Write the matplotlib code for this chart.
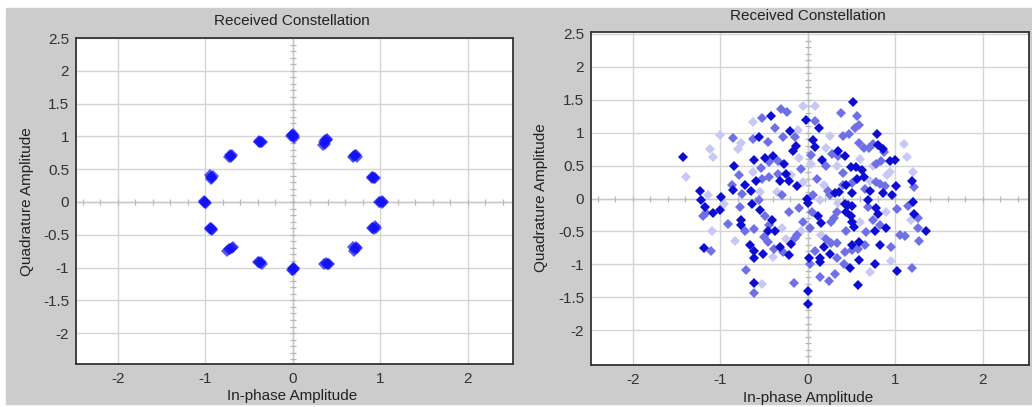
import numpy as np
import matplotlib
matplotlib.use("Agg")
import matplotlib.pyplot as plt
from matplotlib.patches import Rectangle

plt.rcParams['font.family'] = ['Liberation Sans', 'DejaVu Sans']

# left panel: 16-PSK clusters (received symbols)
psk_x = [-0.01, 0.01, 0.00, -0.02, 0.01, 0.00,
         0.37, 0.39, 0.36, 0.37, 0.35, 0.39,
         0.70, 0.72, 0.73, 0.69, 0.71,
         0.91, 0.93, 0.94, 0.92, 0.90,
         1.00, 1.02, 1.02, 0.99, 1.03,
         0.92, 0.93, 0.95, 0.91, 0.94,
         0.69, 0.71, 0.72, 0.70, 0.73,
         0.38, 0.40, 0.36, 0.39, 0.41,
         0.00, -0.01, 0.01, 0.00, 0.01,
         -0.40, -0.37, -0.35, -0.38, -0.36,
         -0.69, -0.72, -0.75, -0.68, -0.73,
         -0.93, -0.92, -0.94, -0.92, -0.94,
         -1.00, -1.01, -0.99, -1.00, -1.01,
         -0.93, -0.94, -0.92, -0.91, -0.93,
         -0.71, -0.69, -0.73, -0.70, -0.72,
         -0.38, -0.36, -0.39, -0.37, -0.35]
psk_y = [1.02, 1.01, 1.00, 1.00, 0.98, 1.03,
         0.95, 0.94, 0.92, 0.89, 0.87, 0.96,
         0.70, 0.71, 0.69, 0.69, 0.72,
         0.37, 0.37, 0.36, 0.38, 0.38,
         0.00, 0.01, -0.01, 0.00, 0.00,
         -0.39, -0.41, -0.39, -0.40, -0.37,
         -0.68, -0.72, -0.69, -0.74, -0.70,
         -0.93, -0.94, -0.95, -0.95, -0.94,
         -1.01, -1.03, -1.00, -1.04, -1.02,
         -0.92, -0.93, -0.94, -0.91, -0.92,
         -0.70, -0.72, -0.74, -0.69, -0.71,
         -0.40, -0.41, -0.39, -0.42, -0.41,
         0.00, 0.01, -0.01, -0.02, 0.00,
         0.38, 0.41, 0.37, 0.39, 0.35,
         0.70, 0.71, 0.69, 0.68, 0.71,
         0.92, 0.92, 0.93, 0.91, 0.92]

# right panel: noisy symbols, split by how strongly they are drawn
dark_x = [-0.42, -0.20, -0.56, -0.13, -0.62, -0.49, -0.40, -1.43, -0.84, -0.86, -0.72, -0.65,
          -0.59, -0.25, -0.32, -0.21, -0.12, -1.23, -1.22, -0.99, -1.18, -1.08, -1.01, -0.64,
          -0.55, -0.41, -0.76, -0.76, -0.46, -0.37, -0.66, -0.61, -0.51, -0.62, -0.32, -0.21,
          -0.19, -1.19, -0.61, -0.01, -0.17, -0.27,
          0.52, 0.13, -0.02, 0.79, 0.80, 0.86, 0.06, 0.08, 0.35, 0.42, 0.16, 0.49,
          0.55, 0.62, 0.94, 1.00, 0.56, 0.64, 0.44, 0.36, 0.31, 0.50, 0.71, 0.86,
          0.96, 1.01, 1.19, 0.00, 0.42, 0.46, 0.51, 0.44, 0.12, 0.15, 0.49, 0.50,
          0.53, 0.69, 0.78, 0.80, 0.89, 0.77, 1.20, 1.22, 1.35, 0.82, 0.58, 0.51,
          0.25, 0.19, 0.14, 0.14, 0.01, 0.58, 0.77, 0.48, 1.02, 0.57, 0.00, 0.00]
dark_y = [1.25, 1.02, 0.94, 0.80, 0.59, 0.61, 0.65, 0.63, 0.50, 0.13, 0.21, 0.12,
          0.27, 0.37, 0.27, 0.26, 0.19, 0.11, -0.02, 0.02, -0.13, -0.22, -0.17, -0.08,
          -0.18, -0.32, -0.33, -0.40, -0.50, -0.49, -0.71, -0.80, -0.85, -0.90, -0.74, -0.86,
          -0.69, -0.75, -1.29, 0.00, 0.72, 0.52,
          1.46, 1.07, 1.20, 0.98, 0.81, 0.75, 0.89, 0.78, 0.72, 0.64, 0.58, 0.48,
          0.48, 0.44, 0.57, 0.59, 0.30, 0.32, 0.21, 0.10, 0.09, 0.09, 0.12, 0.08,
          0.06, 0.19, 0.26, -0.07, -0.08, -0.10, -0.11, -0.20, -0.26, -0.37, -0.27, -0.36,
          -0.43, -0.03, -0.14, -0.23, -0.45, -0.50, -0.06, -0.23, -0.50, -0.70, -0.66, -0.70,
          -0.84, -0.73, -0.90, -0.96, -0.91, -0.93, -0.99, -1.06, -1.10, -1.31, -1.41, -1.60]

mid_x = [-0.31, -0.24, -0.37, -0.52, -0.86, -0.63, -0.34, -0.44, -0.54, -0.79, -0.87, -0.52,
         -0.44, -0.34, -1.17, -1.20, -0.75, -0.77, -0.56, -0.49, -0.44, -0.91, -0.72, -0.62,
         -0.50, -0.46, -0.39, -0.28, -0.15, -1.11, -0.71, -0.61, -0.16, -0.15, -0.28, -0.46,
         -0.08, -0.05, -0.10, -0.30, -0.22, -0.12,
         0.38, 0.56, 0.58, 0.54, 0.08, 0.40, 0.47, 0.59, 0.64, 0.70, 0.75, 0.87,
         0.28, 0.35, 0.04, 0.21, 0.40, 0.78, 0.84, 0.50, 0.40, 0.23, 0.25, 0.65,
         0.78, 0.82, 0.88, 1.21, 0.06, 0.33, 0.27, 0.30, 0.44, 0.69, 0.75, 0.83,
         0.67, 1.02, 1.15, 1.26, 1.26, 1.05, 1.11, 1.27, 0.95, 0.65, 0.57, 0.50,
         0.42, 0.33, 0.21, 0.27, 0.33, 0.02, 0.08, 0.41, 1.19, 0.31, 0.24, 0.14,
         0.02, 0.05, 0.10]
mid_y = [1.36, 1.31, 1.07, 1.22, 0.92, 0.90, 0.57, 0.55, 0.47, 0.35, 0.20, 0.30,
         0.33, 0.37, -0.22, -0.27, 0.07, -0.13, -0.03, -0.27, -0.41, -0.38, -0.49, -0.47,
         -0.59, -0.66, -0.77, -0.82, -0.60, -0.80, -1.08, -1.43, -1.29, 0.93, 0.93, 0.86,
         0.45, -0.35, -0.15, 0.05, -0.20, -0.55,
         1.30, 1.25, 1.12, 1.07, 1.18, 0.95, 0.98, 0.85, 0.76, 0.76, 0.83, 0.71,
         0.68, 0.64, 0.66, 0.49, 0.39, 0.53, 0.57, 0.24, 0.20, 0.12, 0.06, 0.14,
         0.25, 0.22, 0.19, 0.18, 0.05, -0.21, -0.35, -0.30, -0.50, -0.13, -0.33, -0.41,
         -0.51, -0.16, -0.11, -0.30, -0.45, -0.56, -0.57, -0.65, -0.73, -0.70, -0.76, -0.79,
         -0.81, -0.90, -0.62, -0.67, -0.67, -0.99, -0.80, -1.00, -1.06, -1.15, -1.25, -1.19,
         -0.45, -0.20, 0.30]

light_x = [-0.63, -0.11, -1.00, -0.76, -0.80, -1.12, -1.09, -1.39, -0.63, -0.19, -1.14, -0.96,
           -0.25, -0.40, -0.83, -1.10, -0.52, -0.05, -0.10, -0.35, -0.30, -0.08, -0.05, -0.55,
           0.08, 1.10, 1.14, 0.21, 0.04, 0.33, 0.75, 0.94, 0.91, 1.20, 0.71, 0.19,
           0.14, 0.35, 1.18, 0.71, 0.60, 0.25, 0.90, 0.60, 0.15, 0.95]
light_y = [1.16, 1.04, 0.96, 0.84, 0.75, 0.75, 0.63, 0.32, 0.41, 0.35, 0.06, -0.08,
           -0.61, -0.89, -0.64, -0.50, -1.30, 1.40, 0.62, 0.10, -0.45, -0.50, 0.25, 0.10,
           1.40, 0.83, 0.63, 0.76, 0.53, 0.50, 0.50, 0.41, 0.35, 0.40, 0.26, 0.20,
           -0.03, -0.07, -0.33, -1.12, 0.60, 0.95, -0.20, -0.35, -0.55, -0.95]

x_ticks = [-2, -1, 0, 1, 2]
y_ticks = [-2, -1.5, -1, -0.5, 0, 0.5, 1, 1.5, 2, 2.5]
y_tick_labels = ['-2', '-1.5', '-1', '-0.5', '0', '0.5', '1', '1.5', '2', '2.5']

W, H = 1032, 407
fig = plt.figure(figsize=(W / 100, H / 100), dpi=100)
fig.patches.append(Rectangle((6 / W, 1 - 404 / H), 1 - 6 / W, 396 / H,
                             transform=fig.transFigure, color='#cccccc', zorder=-10))

fs = 11


def setup(ax, xlim, ylim):
    ax.set_facecolor('white')
    ax.set_xlim(*xlim)
    ax.set_ylim(*ylim)
    ax.set_xticks(x_ticks)
    ax.set_xticklabels([str(t) for t in x_ticks])
    ax.set_yticks(y_ticks)
    ax.set_yticklabels(y_tick_labels)
    ax.tick_params(length=0, labelsize=fs, colors='#333333')
    ax.tick_params(axis='x', pad=6)
    ax.tick_params(axis='y', pad=5)
    ax.grid(True, color='#d4d4d4', linewidth=1)
    ax.set_axisbelow(True)
    for s in ax.spines.values():
        s.set_color('#333333')
        s.set_linewidth(1.3)
    # centre crosshair with small tick marks
    ax.axhline(0, color='#c8c8c8', linewidth=1, zorder=1)
    ax.axvline(0, color='#c8c8c8', linewidth=1, zorder=1)
    hx = np.arange(-2.4, 2.41, 0.2)
    ax.plot(hx, np.zeros_like(hx), linestyle='none', marker='|', ms=5,
            mew=0.9, color='#b8b8b8', zorder=1)
    vy = np.arange(-2.4, 2.41, 0.1)
    ax.plot(np.zeros_like(vy), vy, linestyle='none', marker='_', ms=5,
            mew=0.9, color='#b8b8b8', zorder=1)


ax1 = fig.add_axes([76 / W, 1 - 364 / H, (513 - 76) / W, (364 - 38) / H])
setup(ax1, (-2.477, 2.517), (-2.47, 2.5))
ax1.plot(psk_x, psk_y, linestyle='none', marker='D', ms=6, mew=0,
         color='#1212f5', alpha=0.7, zorder=3)

ax2 = fig.add_axes([591 / W, 1 - 365 / H, (1029 - 591) / W, (365 - 32) / H])
setup(ax2, (-2.48, 2.53), (-2.53, 2.53))
ax2.plot(light_x, light_y, linestyle='none', marker='D', ms=4.6, mew=0,
         color='#c8c8f6', zorder=3)
ax2.plot(mid_x, mid_y, linestyle='none', marker='D', ms=4.6, mew=0,
         color='#7070e6', zorder=3)
ax2.plot(dark_x, dark_y, linestyle='none', marker='D', ms=4.6, mew=0,
         color='#0c0cd2', zorder=4)

fig.text(292 / W, 1 - 21 / H, 'Received Constellation', ha='center', va='center',
         fontsize=fs, color='#222222')
fig.text(808 / W, 1 - 16 / H, 'Received Constellation', ha='center', va='center',
         fontsize=fs, color='#222222')
fig.text(292 / W, 1 - 396 / H, 'In-phase Amplitude', ha='center', va='center',
         fontsize=fs, color='#222222')
fig.text(808 / W, 1 - 398 / H, 'In-phase Amplitude', ha='center', va='center',
         fontsize=fs, color='#222222')
fig.text(27 / W, 1 - 202 / H, 'Quadrature Amplitude', ha='center', va='center',
         rotation=90, fontsize=fs, color='#222222')
fig.text(541 / W, 1 - 198 / H, 'Quadrature Amplitude', ha='center', va='center',
         rotation=90, fontsize=fs, color='#222222')

fig.savefig('out.png', dpi=100)
